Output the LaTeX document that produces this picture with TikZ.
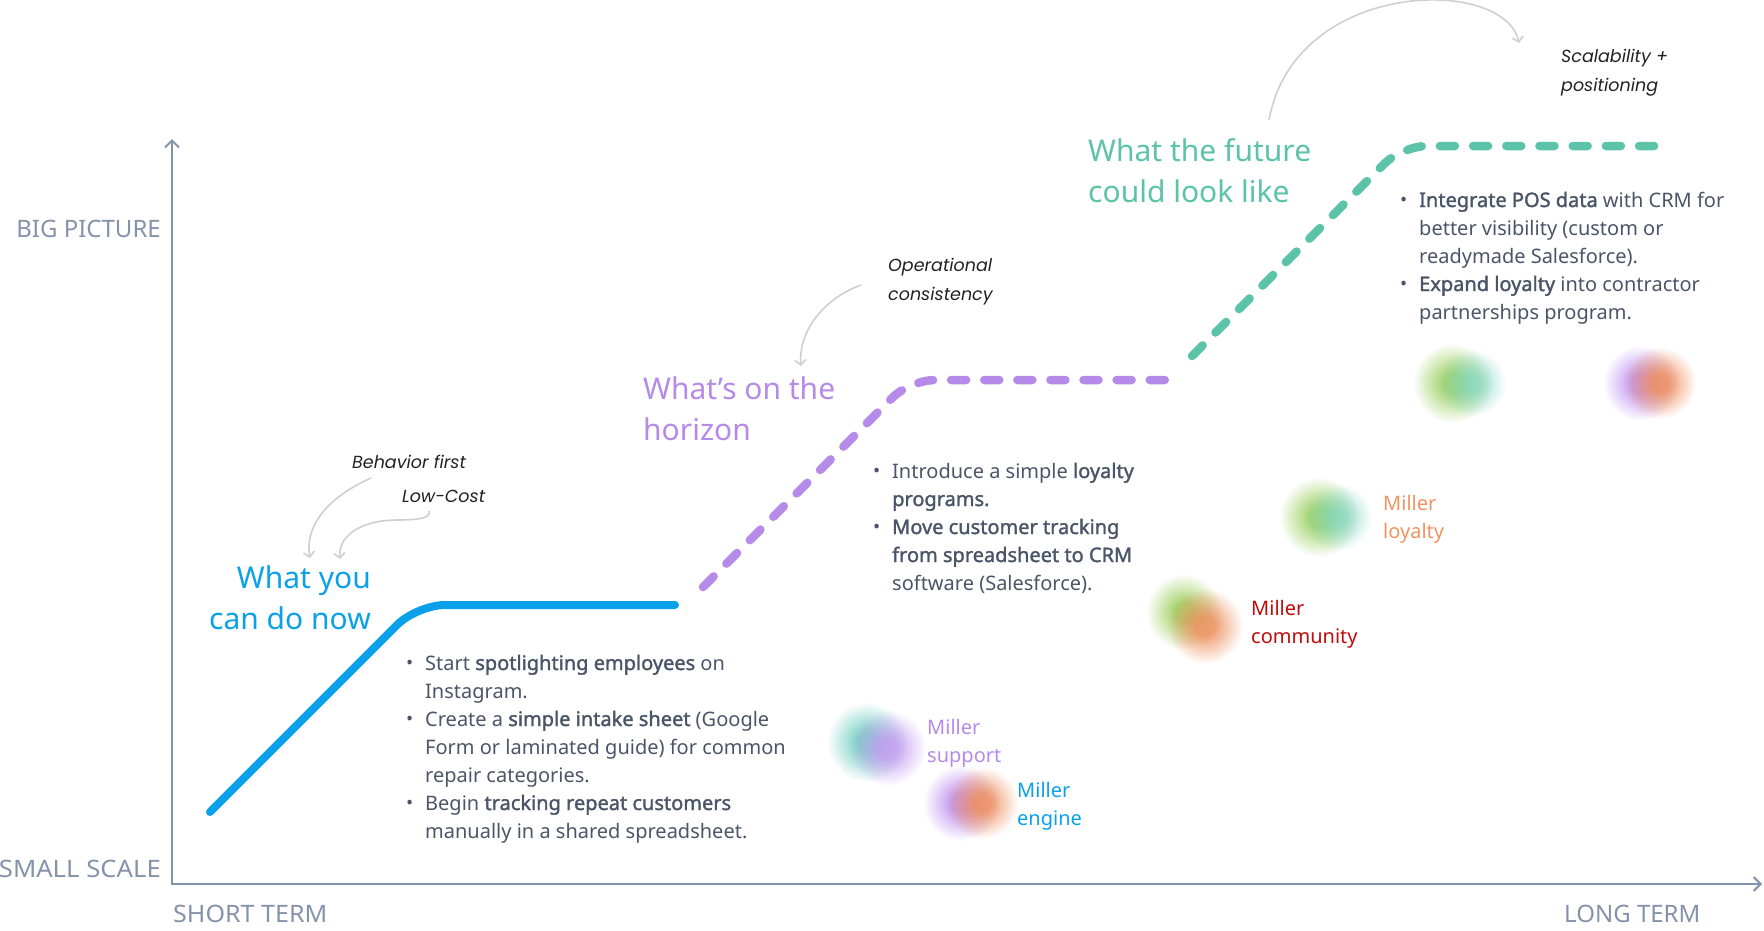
\documentclass[tikz,border=0pt]{standalone}
\usepackage{graphicx}
\usepackage{fontspec}
\setmainfont{Noto Sans}[AutoFakeBold=1.6]
\newfontfamily\handfont{Poppins}
\usetikzlibrary{arrows.meta,fadings}
\definecolor{axisC}{HTML}{8593AA}
\definecolor{blueC}{HTML}{0AA1EA}
\definecolor{purpC}{HTML}{B58AE9}
\definecolor{greenC}{HTML}{5BC3A8}
\definecolor{bodyC}{HTML}{4A5568}
\definecolor{annC}{HTML}{222222}
\definecolor{arrC}{HTML}{CFCFCF}
\definecolor{orangeC}{HTML}{F39260}
\definecolor{redC}{HTML}{C20A0A}
\definecolor{bGreen}{HTML}{A6D46E}
\definecolor{bTeal}{HTML}{7ED4C6}
\definecolor{bPurp}{HTML}{C39BF2}
\definecolor{bOrange}{HTML}{EE8E5C}
\pgfdeclareradialshading{blobshade}{\pgfpointorigin}{color(0bp)=(white); color(6bp)=(white); color(25bp)=(black); color(50bp)=(black)}
\pgfdeclarefading{blobfade}{\pgfuseshading{blobshade}}
\newcommand\bul{\makebox[19pt][l]{\hspace{0pt}\raisebox{0.5pt}{\fontsize{19}{19}\selectfont\textbullet}}}
\newcommand\ind{\hspace*{19pt}}
\begin{document}
\begin{tikzpicture}[x=1pt,y=-1pt,
  axisline/.style={axisC, line width=2pt, {Straight Barb[length=7pt,width=14pt]}-{Straight Barb[length=7pt,width=14pt]}},
  axlabel/.style={text=axisC, font=\fontsize{24}{28}\selectfont, inner sep=0pt},
  ttl/.style={font=\fontsize{30}{41.5}\selectfont, inner sep=0pt},
  body/.style={text=bodyC, font=\fontsize{20}{28}\selectfont, inner sep=0pt},
  ann/.style={text=annC, font=\handfont\itshape\fontsize{17.5}{29}\selectfont, inner sep=0pt},
  annarrow/.style={arrC, line width=1.6pt, -{Straight Barb[length=5pt,width=11pt]}},
  solidline/.style={line width=8pt, line cap=round, rounded corners=28pt},
  dashline/.style={line width=8.5pt, line cap=round, rounded corners=25pt},
  blob/.style={path fading=blobfade},
  lbl/.style={font=\fontsize{20}{28}\selectfont, inner sep=0pt, anchor=base west}
]
\useasboundingbox (0,0) rectangle (1764,930);

% axes
\coordinate (ytop) at (172,139);
\coordinate (orig) at (172,884);
\coordinate (xend) at (1762,884);
\draw[axisline] (ytop) -- (orig) -- (xend);
\node[axlabel, anchor=base east] (bigp) at (161,237) {BIG PICTURE};
\node[axlabel, anchor=base east] (smalls) at (161,877) {\scalebox{1.07}[1]{SMALL SCALE}};
\node[axlabel, anchor=base west] (shortt) at (173,922) {\scalebox{1.045}[1]{SHORT TERM}};
\node[axlabel, anchor=base west] (longt) at (1564,922) {LONG TERM};

% blobs
\fill[bGreen, blob] (1453,383) circle (40);
\fill[bTeal, blob, opacity=0.7] (1472,383) circle (34);
\fill[bPurp, blob] (1641,383) circle (38);
\fill[bOrange, blob, opacity=0.85] (1660,383) circle (36);
\fill[bGreen, blob] (1319,517) circle (40);
\fill[bTeal, blob, opacity=0.7] (1338,517) circle (34);
\fill[bGreen, blob] (1184,612) circle (38);
\fill[bOrange, blob, opacity=0.85] (1205,626) circle (38);
\fill[bTeal, blob] (867,742) circle (40);
\fill[bPurp, blob, opacity=0.85] (888,748) circle (38);
\fill[bPurp, blob] (961,803) circle (38);
\fill[bOrange, blob, opacity=0.85] (982,803) circle (36);

% stage lines
\coordinate (b0) at (210,812);
\coordinate (b1) at (417,605);
\coordinate (b2) at (675,605);
\draw[solidline, blueC] (b0) -- (b1) -- (b2);
\coordinate (p0) at (703,587);
\coordinate (p1) at (910,380);
\coordinate (p2) at (1166,380);
\draw[dashline, purpC, dash pattern=on 15pt off 18.1pt] (p0) -- (p1) -- (p2);
\coordinate (g0) at (1192,356);
\coordinate (g1) at (1402,146);
\coordinate (g2) at (1655,146);
\draw[dashline, greenC, dash pattern=on 15pt off 18.2pt] (g0) -- (g1) -- (g2);

% titles
\node[ttl, text=blueC, anchor=base east] (t1) at (371,588) {\begin{tabular}[t]{@{}r@{}}What you\\can do now\end{tabular}};
\node[ttl, text=purpC, anchor=base west] (t2) at (643,399) {\begin{tabular}[t]{@{}l@{}}What’s on the\\horizon\end{tabular}};
\node[ttl, text=greenC, anchor=base west] (t3) at (1088,161) {\begin{tabular}[t]{@{}l@{}}What the future\\could look like\end{tabular}};

% annotations
\node[ann, anchor=base west] (a1) at (352,468) {Behavior first};
\node[ann, anchor=base west] (a2) at (402,502) {Low-Cost};
\node[ann, anchor=base west] (a3) at (888,271) {\begin{tabular}[t]{@{}l@{}}Operational\\consistency\end{tabular}};
\node[ann, anchor=base west] (a4) at (1561,62) {\begin{tabular}[t]{@{}l@{}}Scalability +\\positioning\end{tabular}};

\coordinate (a1s) at (371,478);
\coordinate (a1e) at (310,558);
\draw[annarrow] (a1s) .. controls (322,500) and (305,530) .. (a1e);
\coordinate (a2s) at (429,511);
\coordinate (a2m) at (395,520);
\coordinate (a2e) at (340,559);
\draw[annarrow] (a2s) .. controls (431,518) and (420,520) .. (a2m) .. controls (357,521) and (338,538) .. (a2e);
\coordinate (a3s) at (861,285);
\coordinate (a3e) at (801,366);
\draw[annarrow] (a3s) .. controls (820,300) and (798,335) .. (a3e);
\coordinate (a4s) at (1269,120);
\coordinate (a4e) at (1519,43);
\draw[annarrow] (a4s) .. controls (1295,-22) and (1505,-24) .. (a4e);

% bullet blocks
\node[body, anchor=base west] (blk1) at (406,670) {\begin{tabular}[t]{@{}l@{}}
\bul Start \textbf{spotlighting employees} on\\
\ind Instagram.\\
\bul Create a \textbf{simple intake sheet} (Google\\
\ind Form or laminated guide) for common\\
\ind repair categories.\\
\bul Begin \textbf{tracking repeat customers}\\
\ind manually in a shared spreadsheet.
\end{tabular}};
\node[body, anchor=base west] (blk2) at (873,478) {\begin{tabular}[t]{@{}l@{}}
\bul Introduce a simple \textbf{loyalty}\\
\ind \textbf{programs.}\\
\bul \textbf{Move customer tracking}\\
\ind \textbf{from spreadsheet to CRM}\\
\ind software (Salesforce).
\end{tabular}};
\node[body, anchor=base west] (blk3) at (1400,207) {\begin{tabular}[t]{@{}l@{}}
\bul \textbf{Integrate POS data} with CRM for\\
\ind better visibility (custom or\\
\ind readymade Salesforce).\\
\bul \textbf{Expand loyalty} into contractor\\
\ind partnerships program.
\end{tabular}};

% blob labels
\node[lbl, text=orangeC] (l1) at (1383,510) {\begin{tabular}[t]{@{}l@{}}Miller\\loyalty\end{tabular}};
\node[lbl, text=redC] (l2) at (1251,615) {\begin{tabular}[t]{@{}l@{}}Miller\\community\end{tabular}};
\node[lbl, text=purpC] (l3) at (927,734) {\begin{tabular}[t]{@{}l@{}}Miller\\support\end{tabular}};
\node[lbl, text=blueC] (l4) at (1017,797) {\begin{tabular}[t]{@{}l@{}}Miller\\engine\end{tabular}};
\end{tikzpicture}
\end{document}
